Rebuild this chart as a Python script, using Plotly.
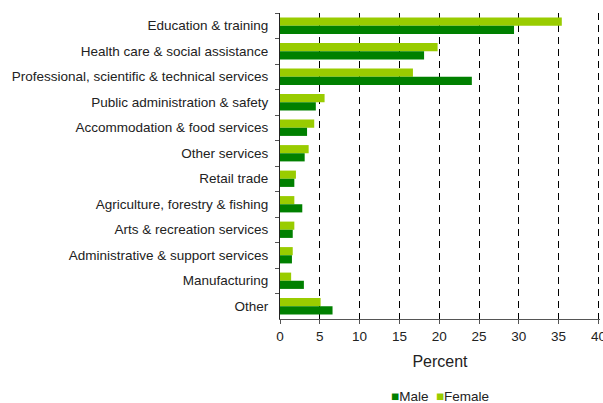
import plotly.graph_objects as go

industries = [
    "Education & training",
    "Health care & social assistance",
    "Professional, scientific & technical services",
    "Public administration & safety",
    "Accommodation & food services",
    "Other services",
    "Retail trade",
    "Agriculture, forestry & fishing",
    "Arts & recreation services",
    "Administrative & support services",
    "Manufacturing",
    "Other",
]
male = [29.4, 18.1, 24.1, 4.5, 3.4, 3.1, 1.8, 2.8, 1.6, 1.5, 3.0, 6.6]
female = [35.4, 19.8, 16.7, 5.6, 4.3, 3.6, 2.0, 1.8, 1.8, 1.6, 1.4, 5.1]
x_ticks = [0, 5, 10, 15, 20, 25, 30, 35, 40]

MALE_COL = "#008000"
FEMALE_COL = "#99CC00"

fig = go.Figure()
# female first so it sits above male in each group (y axis is reversed)
fig.add_trace(go.Bar(y=industries, x=female, name="Female", orientation="h",
                     marker=dict(color=FEMALE_COL, line=dict(width=0))))
fig.add_trace(go.Bar(y=industries, x=male, name="Male", orientation="h",
                     marker=dict(color=MALE_COL, line=dict(width=0))))

fig.update_layout(
    width=603, height=403,
    margin=dict(l=280, r=3, t=13, b=84),
    plot_bgcolor="white", paper_bgcolor="white",
    font=dict(family="Liberation Sans, Arial, sans-serif", size=13.5, color="#222222"),
    barmode="group", bargap=0.36, bargroupgap=0,
    showlegend=False,
)

# compact legend like the original (small squares next to the names)
fig.add_annotation(
    x=0.5, xref="paper", xanchor="center",
    y=-(396 - 319) / 306, yref="paper", yanchor="middle",
    text=(f"<span style='color:{MALE_COL}'>■</span>Male  "
          f"<span style='color:{FEMALE_COL}'>■</span>Female"),
    showarrow=False, font=dict(size=13.5),
)

fig.update_xaxes(
    range=[0, 40.2], tickvals=x_ticks, showgrid=True, automargin=False,
    gridcolor="black", griddash="7px,5px", gridwidth=1,
    showline=True, linecolor="#555555", linewidth=1,
    ticks="outside", ticklen=4, tickcolor="#555555", ticklabelstandoff=1,
    ticklabeloverflow="allow",
    zeroline=False,
    title=dict(text="Percent", standoff=12),
)
fig.update_yaxes(
    autorange="reversed", showgrid=False, automargin=False,
    showline=True, linecolor="#222222", linewidth=1,
    ticks="outside", ticklen=4, tickcolor="#555555", tickson="boundaries",
    ticklabelstandoff=8,
)

# drop the default 8px page margin so the figure fills the window exactly
fig.write_html("out.html", config={"displayModeBar": False},
               post_script="document.body.style.margin='0';document.body.style.overflow='hidden';")
